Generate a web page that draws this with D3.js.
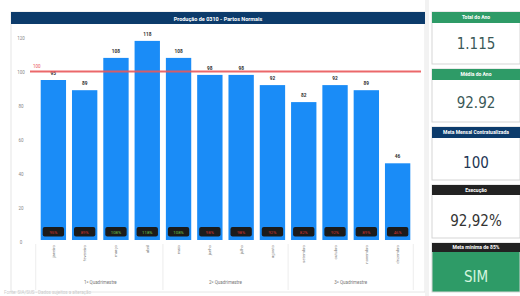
<!DOCTYPE html>
<html><head><meta charset="utf-8">
<script src="https://cdn.jsdelivr.net/npm/d3@7"></script>
<style>body{margin:0;background:#fff;font-family:Roboto,"DejaVu Sans",sans-serif}</style>
</head><body><svg id="c" width="520" height="296"></svg>
<script>
const months = ["janeiro","fevereiro","março","abril","maio","junho","julho","agosto","setembro","outubro","novembro","dezembro"];
const values = [95,89,108,118,108,98,98,92,82,92,89,46];
const quads = ["1º Quadrimestre","2º Quadrimestre","3º Quadrimestre"];
const yTicks = [0,20,40,60,80,100,120];
const meta = 100;
const cardTitles = ["Total do Ano","Média do Ano","Meta Mensal Contratualizada","Execução","Meta mínima de 85%"];
const cardValues = ["1.115","92.92","100","92,92%","SIM"];

const svg = d3.select("#c");
// chart panel
svg.append("rect").attr("x",11).attr("y",12).attr("width",414).attr("height",280).attr("fill","#fff").attr("stroke","#e6e6e6");
svg.append("rect").attr("x",11).attr("y",12).attr("width",414).attr("height",12).attr("fill","#0c3b6b");
svg.append("text").attr("x",218).attr("y",20.5).attr("text-anchor","middle").attr("fill","#fff")
  .attr("font-size",5.5).attr("font-weight","bold").text("Produção de 0310 - Partos Normais");

const y = d3.scaleLinear().domain([0,120]).range([241.5,37.5]);
const x = d3.scaleBand().domain(months).range([36,415]).paddingInner(0.19).paddingOuter(0.15);

// y axis labels
svg.append("g").selectAll("text").data(yTicks).join("text")
  .attr("x",21).attr("y",d=>y(d)+2).attr("text-anchor","middle").attr("font-size",4.5).attr("fill","#888").text(d=>d);

// bars
svg.append("g").selectAll("rect").data(values).join("rect")
  .attr("x",(d,i)=>x(months[i])).attr("y",d=>y(d)).attr("width",x.bandwidth()).attr("height",d=>y(0)-y(d)-1.5)
  .attr("fill","#1a8cf7");
// value labels
svg.append("g").selectAll("text").data(values).join("text")
  .attr("x",(d,i)=>x(months[i])+x.bandwidth()/2).attr("y",d=>y(d)-5).attr("text-anchor","middle")
  .attr("font-size",4.8).attr("font-weight","bold").attr("fill","#333").text(d=>d);
// percent boxes
const pg = svg.append("g");
values.forEach((v,i)=>{
  const bx = x(months[i]);
  pg.append("rect").attr("x",bx+2).attr("y",227).attr("width",x.bandwidth()-4).attr("height",9.5).attr("rx",2)
    .attr("fill","#1b1b1b");
  pg.append("text").attr("x",bx+x.bandwidth()/2).attr("y",233.5).attr("text-anchor","middle").attr("font-size",4.3)
    .attr("fill", v/meta>=1 ? "#6cc04a" : "#d0312d").text(Math.round(v/meta*100)+"%");
});
// meta line
svg.append("line").attr("x1",30).attr("x2",421).attr("y1",y(meta)).attr("y2",y(meta)).attr("stroke","#e9585a").attr("stroke-width",1.8).attr("opacity",0.9);
svg.append("text").attr("x",33).attr("y",y(meta)-4).attr("font-size",4.5).attr("fill","#e9585a").text(meta);

// month labels
svg.append("g").selectAll("text").data(months).join("text")
  .attr("transform",(d)=>`translate(${x(d)+x.bandwidth()/2+1.5},245) rotate(-90)`)
  .attr("text-anchor","end").attr("font-size",4.2).attr("fill","#777").text(d=>d);
// quad separators and labels
const sepXs = [0,4,8,12].map(k=> k===0 ? x(months[0]) - (x.step()-x.bandwidth())/2 - 2 : k===12 ? x(months[11])+x.bandwidth()+3 : x(months[k]) - (x.step()-x.bandwidth())/2);
svg.append("g").selectAll("line").data(sepXs).join("line")
  .attr("x1",d=>d).attr("x2",d=>d).attr("y1",244).attr("y2",290).attr("stroke","#e8e8e8").attr("stroke-width",0.8);
svg.append("g").selectAll("text").data(quads).join("text")
  .attr("x",(d,i)=>(x(months[i*4])+x(months[i*4+3])+x.bandwidth())/2).attr("y",284).attr("text-anchor","middle")
  .attr("font-size",4.5).attr("fill","#777").text(d=>d);
svg.append("text").attr("x",4).attr("y",294).attr("font-size",4.5).attr("fill","#ccc").text("Fonte: SIA/SUS - Dados sujeitos a alteração");

// right cards
svg.append("rect").attr("x",425).attr("y",0).attr("width",4).attr("height",296).attr("fill","#f2f2f2");
const cards = [
  {hy:12, hh:11, hc:"#2e9b67", vy:44, vh:46, fs:15, vc:"#3b5958"},
  {hy:69, hh:11, hc:"#2e9b67", vy:103, vh:46, fs:15, vc:"#3b5958"},
  {hy:127, hh:11, hc:"#0c3b6b", vy:163, vh:46, fs:15, vc:"#1d3554"},
  {hy:185, hh:10, hc:"#222", vy:221, vh:46, fs:15, vc:"#333"},
  {hy:243, hh:9, hc:"#222", vy:277, vh:40, fs:15, vc:"#d4f5df"}
];
cards.forEach((c,i)=>{
  const bodyTop = c.hy + c.hh;
  const bodyH = (i<4 ? cards[i+1].hy - 5 : 292) - bodyTop;
  svg.append("rect").attr("x",432).attr("y",c.hy).attr("width",88).attr("height",bodyH + c.hh)
    .attr("fill", i===4 ? "#2e9b67" : "#fff").attr("stroke","#d5d5d5").attr("stroke-width",1);
  svg.append("rect").attr("x",432).attr("y",c.hy).attr("width",88).attr("height",c.hh).attr("fill",c.hc);
  svg.append("text").attr("x",476).attr("y",c.hy+c.hh/2+1.8).attr("text-anchor","middle").attr("font-size",5)
    .attr("fill","#fff").attr("font-weight","bold").text(cardTitles[i]);
  svg.append("text").attr("x",476).attr("y",c.vy+c.fs*0.36).attr("text-anchor","middle").attr("font-size",c.fs)
    .attr("font-family","'DejaVu Sans Condensed','Roboto Condensed',Roboto,sans-serif")
    .attr("fill",c.vc).text(cardValues[i]);
});
</script></body></html>
